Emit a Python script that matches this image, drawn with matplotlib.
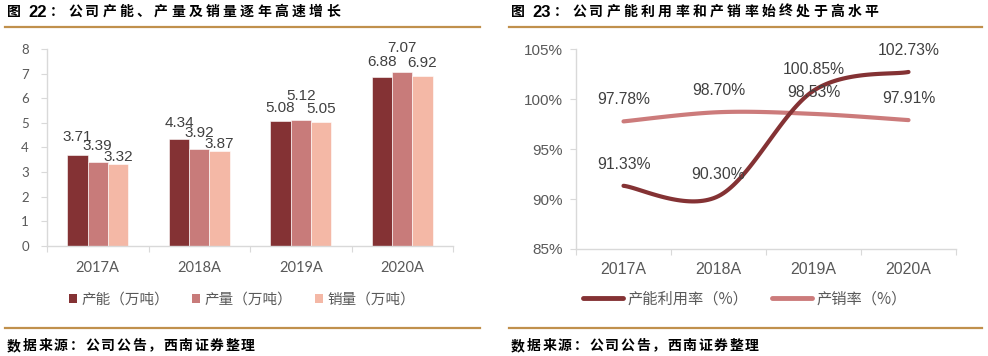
import numpy as np
import matplotlib
matplotlib.use("Agg")
import matplotlib.pyplot as plt
from matplotlib.lines import Line2D
from matplotlib.patches import Patch

# ---------------- data ----------------
years = ["2017A", "2018A", "2019A", "2020A"]
capacity = [3.71, 4.34, 5.08, 6.88]      # 产能（万吨）
output = [3.39, 3.92, 5.12, 7.07]        # 产量（万吨）
sales = [3.32, 3.87, 5.05, 6.92]         # 销量（万吨）
bar_series_names = ["产能（万吨）", "产量（万吨）", "销量（万吨）"]

utilization = [91.33, 90.30, 100.85, 102.73]   # 产能利用率（%）
sell_through = [97.78, 98.70, 98.53, 97.91]    # 产销率（%）
line_series_names = ["产能利用率（%）", "产销率（%）"]

left_fig_no = "22"
left_title = "公司产能、产量及销量逐年高速增长"
right_fig_no = "23"
right_title = "公司产能利用率和产销率始终处于高水平"
source_text = "数据来源：公司公告，西南证券整理"

# ---------------- style ----------------
W, H = 988, 356
CJK = ["Noto Sans CJK SC", "DejaVu Sans"]
NUM = ["Liberation Sans", "DejaVu Sans"]
AXF = ["Lato", "DejaVu Sans"]
GOLD = "#C0904C"
GRID = "#D9D9D9"
TXT = "#595959"
VAL = "#404040"
bar_colors = ["#843234", "#C87B7A", "#F4B8A6"]
line_colors = ["#843234", "#CC7B7B"]

fig = plt.figure(figsize=(W / 100, H / 100), dpi=100)


def fx(px):
    return px / W


def fy(py):
    return 1 - py / H


def spaced(x0, y, s, step, **kw):
    for i, ch in enumerate(s):
        fig.text(fx(x0 + i * step), fy(y), ch, ha="left", va="center", **kw)


def hline(x0, x1, y):
    fig.add_artist(Line2D([fx(x0), fx(x1)], [fy(y), fy(y)], color=GOLD, lw=1.6,
                          transform=fig.transFigure))


# titles, rules, sources
for x0, x1, no, title in [(6, 480, left_fig_no, left_title),
                          (510, 982, right_fig_no, right_title)]:
    fig.text(fx(x0 + 1), fy(12), "图", ha="left", va="center", family=CJK,
             fontsize=10, fontweight="bold", color="#000000")
    fig.text(fx(x0 + 22), fy(12.5), no, ha="left", va="center", family=NUM,
             fontsize=12, fontweight="bold", color="#000000")
    fig.text(fx(x0 + 44), fy(12), "：", ha="left", va="center", family=CJK,
             fontsize=10, fontweight="bold", color="#000000")
    spaced(x0 + 62, 12, title, 17.2, family=CJK, fontsize=10,
           fontweight="bold", color="#000000")
    hline(x0 - 1, x1, 27)
    hline(x0 - 1, x1, 328)
    spaced(x0 + 1, 346, source_text, 15.6, family=CJK, fontsize=10,
           fontweight="bold", color="#000000")

# ---------------- left: bar chart ----------------
ax1 = fig.add_axes([fx(47), fy(245.7), fx(406), 196.4 / H])
x = np.arange(len(years))
bw = 0.2
series = [capacity, output, sales]
label_dy_px = [[17.5, 16.5, 12.7, 14.5],
               [16.3, 16.8, 24.3, 24.4],
               [6.9, 6.7, 12.7, 12.5]]
for k, vals in enumerate(series):
    xs = x + (k - 1) * bw
    ax1.bar(xs, vals, width=bw, color=bar_colors[k], edgecolor="white",
            linewidth=0.4, label=bar_series_names[k], zorder=2)
    for xi, v, d in zip(xs, vals, label_dy_px[k]):
        ax1.annotate(f"{v:.2f}", (xi, v), xytext=(0, d * 0.72),
                     textcoords="offset points", ha="center", va="center",
                     fontsize=11, color=VAL, family=NUM, annotation_clip=False)

ax1.set_xlim(-0.5, len(years) - 0.5)
ax1.set_ylim(0, 8)
ax1.set_yticks(range(0, 9))
ax1.set_xticks(np.arange(len(years) + 1) - 0.5)
ax1.set_xticklabels([])
ax1.set_xticks(x, minor=True)
ax1.set_xticklabels(years, minor=True)
for s in ["top", "right"]:
    ax1.spines[s].set_visible(False)
for s in ["left", "bottom"]:
    ax1.spines[s].set_color(GRID)
    ax1.spines[s].set_linewidth(1)
ax1.tick_params(axis="y", length=4, color=GRID, pad=9, labelsize=9.5,
                labelcolor=TXT)
ax1.tick_params(axis="x", which="major", length=4, color=GRID)
ax1.tick_params(axis="x", which="minor", length=0, pad=11, labelsize=10.5,
                labelcolor=TXT)
for lab in ax1.get_yticklabels() + ax1.get_xticklabels(minor=True):
    lab.set_family(AXF)

handles = [Patch(facecolor=c, edgecolor="none") for c in bar_colors]
fig.legend(handles, bar_series_names, loc="center",
           bbox_to_anchor=(fx(242), fy(300)), ncol=3, frameon=False,
           prop={"family": CJK, "size": 10.5}, labelcolor=TXT,
           handlelength=0.55, handleheight=0.6, handletextpad=0.3,
           columnspacing=1.55, borderpad=0)

# ---------------- right: smooth line chart ----------------
ax2 = fig.add_axes([fx(576), fy(249), fx(380), 199.7 / H])


def catmull_rom(xs, ys, n=40):
    P = np.column_stack([xs, ys]).astype(float)
    P = np.vstack([P[0], P, P[-1]])
    out = []
    t = np.linspace(0, 1, n)[:, None]
    for i in range(1, len(P) - 2):
        p0, p1, p2, p3 = P[i - 1], P[i], P[i + 1], P[i + 2]
        seg = 0.5 * (2 * p1 + (-p0 + p2) * t + (2 * p0 - 5 * p1 + 4 * p2 - p3) * t ** 2
                     + (-p0 + 3 * p1 - 3 * p2 + p3) * t ** 3)
        out.append(seg if i == 1 else seg[1:])
    out = np.vstack(out)
    return out[:, 0], out[:, 1]


line_data = [utilization, sell_through]
for k, vals in enumerate(line_data):
    sx, sy = catmull_rom(x, vals)
    ax2.plot(sx, sy, color=line_colors[k], lw=3, solid_capstyle="round",
             label=line_series_names[k], zorder=3 - k)
    for xi, v in zip(x, vals):
        ax2.annotate(f"{v:.2f}%", (xi, v), xytext=(0, 15.5),
                     textcoords="offset points", ha="center", va="center",
                     fontsize=11.3, color=VAL, family=NUM, annotation_clip=False,
                     zorder=5)

ax2.set_xlim(-0.5, len(years) - 0.5)
ax2.set_ylim(85, 105)
ax2.set_yticks(range(85, 106, 5))
ax2.set_yticklabels([f"{t}%" for t in range(85, 106, 5)])
ax2.set_xticks(np.arange(len(years) + 1) - 0.5)
ax2.set_xticklabels([])
ax2.set_xticks(x, minor=True)
ax2.set_xticklabels(years, minor=True)
for s in ["top", "right"]:
    ax2.spines[s].set_visible(False)
for s in ["left", "bottom"]:
    ax2.spines[s].set_color(GRID)
    ax2.spines[s].set_linewidth(1)
ax2.tick_params(axis="y", length=4.5, color=GRID, pad=5, labelsize=11,
                labelcolor=TXT)
ax2.tick_params(axis="x", which="major", length=4, color=GRID)
ax2.tick_params(axis="x", which="minor", length=0, pad=9, labelsize=11.5,
                labelcolor=TXT)
for lab in ax2.get_yticklabels() + ax2.get_xticklabels(minor=True):
    lab.set_family(NUM)

lh = [Line2D([0], [0], color=c, lw=3.5, solid_capstyle="round") for c in line_colors]
fig.legend(lh, line_series_names, loc="center",
           bbox_to_anchor=(fx(745), fy(299)), ncol=2, frameon=False,
           prop={"family": CJK, "size": 11}, labelcolor=TXT,
           handlelength=2.6, handletextpad=0.3, columnspacing=1.6, borderpad=0)

fig.savefig("out.png", dpi=100)
